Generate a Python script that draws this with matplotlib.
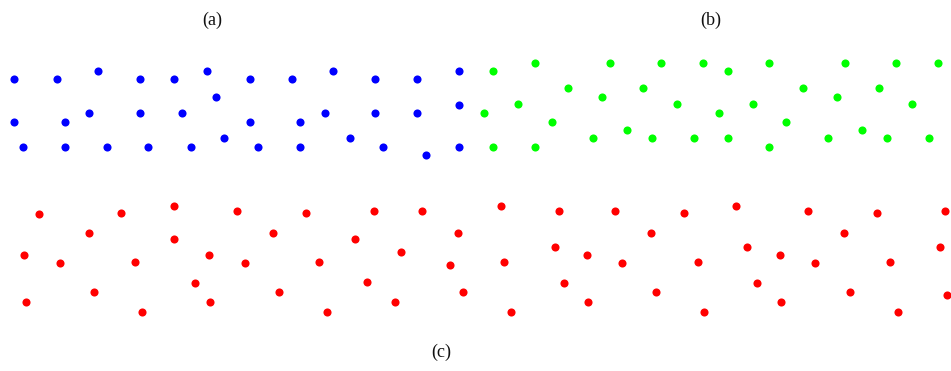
import matplotlib
matplotlib.use("Agg")
import matplotlib.pyplot as plt

# Blue point set (a), in canvas pixel units
blue_x = [14.3, 56.7, 97.7, 140, 174, 207.3, 215.7, 14.3, 65, 89.3, 140, 182, 224,
          22.7, 65, 106.7, 148.3, 190.7,
          250, 291.7, 333.3, 375, 417.3, 459.3, 250, 300, 325, 375, 417.3, 459.3,
          258.3, 300, 350, 383.3, 425.7, 459.3]
blue_y = [79.3, 79.3, 71, 79.3, 79.3, 71, 96.7, 121.7, 121.7, 113.3, 113.3, 113.3, 137.7,
          146.7, 146.7, 146.7, 146.7, 146.7,
          79.3, 79.3, 71, 79.3, 79.3, 71, 121.7, 121.7, 113.3, 113.3, 113.3, 105,
          146.7, 146.7, 138.3, 146.7, 155, 146.7]

# Green point set (b)
green_x = [492.7, 535, 610, 660.7, 702.7, 567.7, 643.3, 602, 518.3, 677.3, 484.3, 551.7,
           626.7, 593.3, 652, 694, 492.7, 535,
           727.7, 769.3, 845, 895.7, 937.7, 803.3, 879, 836.7, 752.7, 911.7, 719.3, 786,
           861.7, 828.3, 887.3, 929.3, 727.7, 769.3]
green_y = [71, 62.7, 62.7, 62.7, 62.7, 87.7, 87.7, 96.7, 104.3, 104.3, 113.3, 121.7,
           130, 138.3, 138.3, 138.3, 147.3, 147.3,
           71, 62.7, 62.7, 62.7, 62.7, 87.7, 87.7, 96.7, 104.3, 104.3, 113.3, 121.7,
           130, 138.3, 138.3, 138.3, 138.3, 147.3]

# Red point set (c)
red_x = [39.3, 121, 174, 88.7, 174, 24.3, 60, 134.7, 209, 195, 94.3, 25.7, 142, 210,
         237.3, 306, 374.3, 421.7, 273.3, 355, 458.3, 401.3, 244.7, 319.3, 450, 366.7,
         279.3, 463.3, 394.7, 326.7,
         501, 559, 614.7, 683.7, 651, 554.7, 586.7, 504, 622.3, 697.7, 564, 656.3, 588,
         511.3, 704.3,
         736, 807.7, 876.7, 945, 844, 747.3, 940, 780, 815.3, 890, 756.7, 850, 947.3,
         781, 897.7]
red_y = [214.3, 213.3, 205.7, 233.3, 239.3, 255, 263.3, 262.3, 255, 283.3, 291.7, 301.7,
         311.7, 301.7,
         211, 213.3, 211, 211, 233.3, 239.3, 233.3, 251.7, 263.3, 262.3, 265, 281.7,
         291.7, 291.7, 301.7, 311.7,
         205.7, 211, 211, 213.3, 233.3, 247.3, 255, 262.3, 263.3, 262.3, 283.3, 291.7,
         301.7, 311.7, 311.7,
         205.7, 211, 213.3, 211, 233.3, 247.3, 247.3, 255, 263.3, 262.3, 283.3, 291.7,
         295, 301.7, 311.7]

panel_labels = ["(a)", "(b)", "(c)"]
label_x = [212, 711, 441]
label_y = [20, 20, 352]

W, H = 951, 371
fig = plt.figure(figsize=(W / 100, H / 100), dpi=100)
ax = fig.add_axes([0, 0, 1, 1])
ax.set_xlim(0, W)
ax.set_ylim(H, 0)
ax.axis("off")

ms = 34
ax.scatter(blue_x, blue_y, s=ms, color="#0000ff", linewidths=0)
ax.scatter(green_x, green_y, s=ms, color="#00ff00", linewidths=0)
ax.scatter(red_x, red_y, s=ms, color="#ff0000", linewidths=0)

for t, x, y in zip(panel_labels, label_x, label_y):
    ax.text(x, y, t, ha="center", va="center", fontsize=13,
            family="Liberation Serif", color="#111111")

fig.savefig("out.png", dpi=100)
